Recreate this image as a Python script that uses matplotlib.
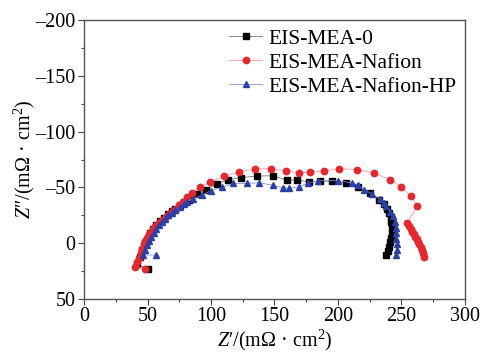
import matplotlib
matplotlib.use("Agg")
import matplotlib.pyplot as plt
from matplotlib.ticker import MultipleLocator, FuncFormatter

plt.rcParams["font.family"] = ["Liberation Serif", "Noto Sans CJK SC", "DejaVu Serif"]
plt.rcParams["mathtext.fontset"] = "custom"
plt.rcParams["mathtext.rm"] = "Liberation Serif"
plt.rcParams["mathtext.it"] = "Liberation Serif:italic"

labels = ["EIS-MEA-0", "EIS-MEA-Nafion", "EIS-MEA-Nafion-HP"]

# EIS-MEA-0
z0_re = [50.5, 42, 44, 46, 48, 50, 52, 54.5, 57, 60, 63, 66, 69, 72, 75.5, 79, 83,
         89, 95.8, 104.5, 113.6, 123.6, 136, 148.6, 159.6, 167.5, 177.4, 186, 195,
         206, 216, 225, 232.5, 236, 238.5, 240.5, 241.5, 242, 242.5, 242.5, 242,
         241, 240, 239, 238]
z0_im = [23.5, 19, 12, 6, 0, -5, -9, -13, -16.5, -20, -23, -26, -28.5, -31, -34, -37,
         -39, -44, -48, -53, -57, -58.7, -60.2, -60.5, -56.6, -56.6, -55, -55.7,
         -55.7, -54, -50, -45, -39, -35, -30.5, -27, -23.5, -19, -15, -10, -5,
         -1, 3, 7, 10.5]

# EIS-MEA-Nafion
zn_re = [48, 40.5, 42, 43.5, 45, 46, 47, 48, 49.5, 51, 52.5, 54, 56, 58, 60, 62, 64,
         66, 68, 70, 72.5, 75, 78, 81, 85, 91, 99.5, 110, 122, 134.5, 147, 159, 169,
         178, 189, 201, 215, 228.5, 241, 250, 257.5, 262.5, 254.5, 256, 257.5,
         258.5, 259.5, 261, 262, 263, 264, 265, 266, 267, 267.5]
zn_im = [23, 21, 17, 13, 9, 5, 1, -2, -5, -8, -10.5, -13, -15, -17, -19, -21, -23,
         -25, -27, -29, -31, -34, -37, -41, -45, -50, -55, -60, -64, -66.5, -66.8,
         -65, -63, -63.8, -64.7, -66.8, -66, -63, -57, -50, -42, -33, -18.5, -15.5,
         -13, -10.5, -8.5, -6, -3.5, -1, 1, 3.5, 6, 9, 12]

# EIS-MEA-Nafion-HP
zh_re = [56.7, 46.5, 48, 49.5, 51, 53, 55, 57, 59, 61.5, 64, 66.5, 69, 72, 75.5, 78.5,
         81, 86, 92.6, 99.7, 108.4, 117.6, 128, 138, 148.6, 156.4, 161.7, 169.6,
         176.7, 184.5, 200, 210.8, 215.5, 220.7, 227, 233, 236, 238, 241, 243.5,
         244.5, 245.5, 246, 246, 246.5, 246.5, 246]
zh_im = [10.6, 10.5, 6, 2, -2, -6, -9.5, -13, -16, -19, -22, -25, -27.5, -30, -32.5,
         -35, -37, -40, -43, -47, -50, -53.6, -53.6, -54.2, -52, -49.8, -49.2, -50.7,
         -54.2, -56, -56, -54.2, -52, -48, -44, -39.3, -36, -33, -28, -24, -19, -14,
         -9, -4, 1, 6, 10.6]

fig = plt.figure(figsize=(4.82, 3.53), dpi=100)
ax = fig.add_axes([0.1743, 0.153, 0.7904, 0.790])

styles = [
    dict(marker="s", mfc="#000000", line="#777777"),
    dict(marker="o", mfc="#e8262e", line="#f0a0a0"),
    dict(marker="^", mfc="#2a3fa8", line="#8890d0"),
]
series = [(z0_re, z0_im), (zn_re, zn_im), (zh_re, zh_im)]
for (xs, ys), st, lab in zip(series, styles, labels):
    ax.plot(xs, ys, color=st["line"], lw=0.6, marker=st["marker"], ms=4.6,
            mfc=st["mfc"], mec=st["mfc"], label=lab)

ax.set_xlim(0, 300)
ax.set_ylim(50, -200)
ax.xaxis.set_major_locator(MultipleLocator(50))
ax.xaxis.set_minor_locator(MultipleLocator(25))
ax.yaxis.set_major_locator(MultipleLocator(50))
ax.yaxis.set_minor_locator(MultipleLocator(25))
dash_fmt = FuncFormatter(lambda v, _: ("\u2013%d" % -v) if v < 0 else "%d" % v)
ax.yaxis.set_major_formatter(dash_fmt)
ax.tick_params(which="both", direction="out", top=False, right=False,
               labelsize=14.5, color="#444444")
ax.tick_params(which="major", length=4, width=0.8, pad=2)
ax.tick_params(which="minor", length=2, width=0.8)
for sp in ax.spines.values():
    sp.set_color("#555555")
    sp.set_linewidth(1.0)

ax.set_xlabel("$Z$\u2032/(m\u03a9 \u00b7 cm$^2$)", fontsize=14.5, labelpad=1)
ax.set_ylabel("$Z$\u2033/(m\u03a9 \u00b7 cm$^2$)", fontsize=14.5, labelpad=-1)

leg = ax.legend(loc="upper right", frameon=False, fontsize=15.5,
                handlelength=1.5, handletextpad=0.3, labelspacing=0.18,
                borderaxespad=0.0, bbox_to_anchor=(1.0, 1.0))

fig.savefig("out.png", dpi=100)
